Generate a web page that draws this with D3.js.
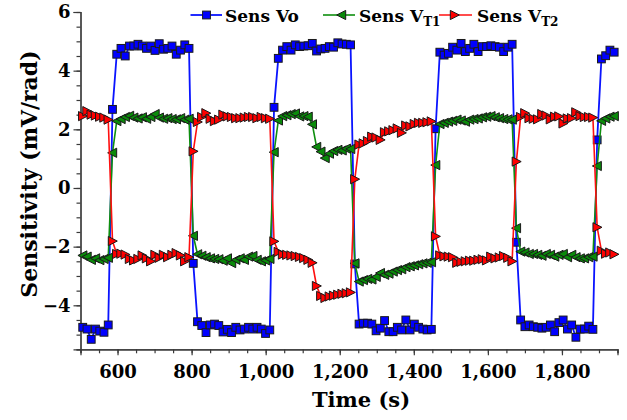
<!DOCTYPE html>
<html>
<head>
<meta charset="utf-8">
<script src="https://cdn.jsdelivr.net/npm/d3@7/dist/d3.min.js"></script>
<style>
  html, body { margin: 0; padding: 0; background: #fff; }
  svg { display: block; }
  text { font-family: "DejaVu Serif", serif; font-weight: bold; fill: #000; }
</style>
</head>
<body>
<svg id="chart" width="627" height="420"></svg>
<script>
// Sampling: one reading every ~11.5 s starting at t = 506 s
const startTime = 506;
const samplePeriod = 11.48;

// Sens Vo (mV/rad)
const sensVo = [
  -4.75, -4.81, -5.16, -4.81, -4.88, -4.92, -4.67,
  2.68,
  4.56, 4.76, 4.50, 4.84, 4.84, 4.90, 4.84, 4.76, 4.84, 4.69, 4.92, 4.73, 4.76, 4.84, 4.56, 4.70, 4.88, 4.76,
  -2.57,
  -4.56, -4.69, -4.93, -4.67, -4.64, -4.69, -4.91, -4.82, -4.93, -4.75, -4.84, -4.81, -4.75, -4.81, -4.75, -4.81, -4.96, -4.84,
  2.75,
  4.42, 4.70, 4.82, 4.70, 4.88, 4.82, 4.84, 4.85, 4.93, 4.67, 4.74, 4.76, 4.82, 4.80, 4.95, 4.91, 4.90, 4.88,
  -2.59,
  -4.64, -4.61, -4.61, -4.64, -4.87, -4.78, -4.52, -4.90, -4.90, -4.75, -4.84, -4.50, -4.84, -4.64, -4.75, -4.81, -4.84, -4.82,
  2.02,
  4.63, 4.53, 4.59, 4.80, 4.70, 4.93, 4.65, 4.76, 4.90, 4.65, 4.82, 4.82, 4.85, 4.82, 4.80, 4.65, 4.80, 4.90,
  -1.85,
  -4.50, -4.73, -4.67, -4.73, -4.75, -4.78, -4.75, -4.67, -4.90, -4.59, -4.50, -4.81, -4.67, -5.09, -4.81, -4.81, -4.71, -4.82,
  1.64,
  4.40, 4.51, 4.70, 4.63
];

// Sens VT1 (mV/rad)
const sensVT1 = [
  -2.30, -2.34, -2.45, -2.40, -2.46, -2.42, -2.38,
  1.20,
  2.28, 2.35, 2.42, 2.46, 2.40, 2.37, 2.41, 2.36, 2.42, 2.52, 2.40, 2.36, 2.38, 2.35, 2.34, 2.38, 2.33, 2.36,
  -1.63,
  -2.26, -2.31, -2.36, -2.40, -2.42, -2.43, -2.48, -2.40, -2.56, -2.45, -2.40, -2.45, -2.34, -2.32, -2.45, -2.50, -2.47, -2.42,
  1.22,
  2.30, 2.45, 2.48, 2.52, 2.54, 2.44, 2.45, 2.43, 2.17, 1.40, 1.24, 1.02, 1.17, 1.26, 1.30, 1.28, 1.34, 1.33,
  -2.57,
  -3.19, -3.14, -3.10, -3.12, -3.03, -2.90, -2.96, -2.92, -2.85, -2.80, -2.77, -2.70, -2.67, -2.64, -2.60, -2.57, -2.55, -2.53,
  0.78,
  2.18, 2.22, 2.26, 2.29, 2.33, 2.30, 2.26, 2.33, 2.35, 2.37, 2.41, 2.43, 2.45, 2.41, 2.38, 2.35, 2.34, 2.33,
  -1.37,
  -2.17, -2.20, -2.25, -2.25, -2.28, -2.31, -2.25, -2.28, -2.34, -2.28, -2.25, -2.36, -2.28, -2.36, -2.40, -2.40, -2.36, -2.34,
  0.75,
  2.29, 2.37, 2.43, 2.45
];

// Sens VT2 (mV/rad)
const sensVT2 = [
  2.45, 2.62, 2.50, 2.47, 2.43, 2.40, 2.33,
  -1.81,
  -2.25, -2.24, -2.27, -2.42, -2.47, -2.42, -2.30, -2.40, -2.50, -2.28, -2.38, -2.28, -2.36, -2.28, -2.22, -2.30, -2.50, -2.36,
  1.25,
  2.25, 2.42, 2.55, 2.36, 2.28, 2.33, 2.50, 2.44, 2.42, 2.38, 2.38, 2.40, 2.42, 2.42, 2.38, 2.42, 2.38, 2.36,
  -1.82,
  -2.18, -2.27, -2.28, -2.30, -2.32, -2.35, -2.39, -2.45, -2.55, -3.34, -3.68, -3.75, -3.70, -3.67, -3.64, -3.61, -3.59, -3.56,
  0.30,
  1.48, 1.52, 1.60, 1.75, 1.72, 1.64, 1.90, 1.93, 1.97, 2.03, 1.88, 2.13, 2.10, 2.18, 2.22, 2.22, 2.24, 2.27,
  -1.65,
  -2.30, -2.33, -2.34, -2.36, -2.55, -2.52, -2.50, -2.48, -2.48, -2.45, -2.43, -2.47, -2.34, -2.40, -2.37, -2.32, -2.38, -2.50,
  0.90,
  2.42, 2.55, 2.38, 2.36, 2.34, 2.52, 2.47, 2.34, 2.43, 2.44, 2.20, 2.37, 2.38, 2.58, 2.45, 2.42, 2.42, 2.40,
  -1.34,
  -2.14, -2.24, -2.20, -2.26
];

const xTickValues = [600, 800, 1000, 1200, 1400, 1600, 1800];
const yTickValues = [-4, -2, 0, 2, 4, 6];

const times = sensVo.map((_, i) => startTime + i * samplePeriod);

const svg = d3.select("#chart");
const plot = { left: 80.5, right: 617.5, top: 12, bottom: 349.3 };

const x = d3.scaleLinear().domain([500, 1950]).range([plot.left, plot.right]);
const y = d3.scaleLinear().domain([-5.5, 6]).range([plot.bottom, plot.top]);

const axisColor = "#3a3a3a";

// ---- axes ----
const xAxis = d3.axisBottom(x)
  .tickValues(xTickValues)
  .tickFormat(d3.format(","))
  .tickSize(6)
  .tickPadding(10);
const xMinor = d3.axisBottom(x)
  .tickValues(d3.range(500, 1951, 50))
  .tickFormat("")
  .tickSize(4);

const gx = svg.append("g").attr("transform", `translate(0,${plot.bottom})`);
gx.append("g").call(xMinor);
gx.append("g").call(xAxis);

const yAxis = d3.axisLeft(y)
  .tickValues(yTickValues)
  .tickSize(7)
  .tickPadding(3);
const yMinor = d3.axisLeft(y)
  .tickValues(d3.range(-5.5, 6.01, 0.5))
  .tickFormat("")
  .tickSize(4);

const gy = svg.append("g").attr("transform", `translate(${plot.left},0)`);
gy.append("g").call(yMinor);
gy.append("g").call(yAxis);

svg.selectAll(".domain").attr("stroke", axisColor).attr("stroke-width", 1.2);
svg.selectAll(".tick line").attr("stroke", axisColor).attr("stroke-width", 1.2);
svg.selectAll(".tick text")
  .attr("font-family", "DejaVu Serif, serif")
  .attr("font-weight", "bold")
  .attr("font-size", 18)
  .attr("fill", "#000");

// axis titles
svg.append("text")
  .attr("x", 361).attr("y", 407)
  .attr("text-anchor", "middle")
  .attr("font-size", 21)
  .text("Time (s)");

svg.append("text")
  .attr("transform", "translate(37,174) rotate(-90)")
  .attr("text-anchor", "middle")
  .attr("font-size", 22)
  .text("Sensitivity (mV/rad)");

// ---- markers ----
const markerStroke = "#1a1a1a";
const shapes = {
  square: (g) => g.append("rect").attr("x", -3.9).attr("y", -3.9).attr("width", 7.8).attr("height", 7.8),
  left: (g) => g.append("path").attr("d", "M-4.8,0L4.2,-4.6L4.2,4.6Z"),
  right: (g) => g.append("path").attr("d", "M4.8,0L-4.2,-4.6L-4.2,4.6Z")
};

const series = [
  { name: "Vo", values: sensVo, color: "#0000ff", line: "#0a14ff", shape: "square", width: 1.8 },
  { name: "VT1", values: sensVT1, color: "#0a8a0a", line: "#0f8f0f", shape: "left", width: 1.6 },
  { name: "VT2", values: sensVT2, color: "#ff0000", line: "#ff1010", shape: "right", width: 1.6 }
];

const line = d3.line().x(d => x(d[0])).y(d => y(d[1]));

series.forEach(s => {
  const pts = s.values.map((v, i) => [times[i], v]);
  const g = svg.append("g");
  g.append("path")
    .datum(pts)
    .attr("fill", "none")
    .attr("stroke", s.line)
    .attr("stroke-width", s.width)
    .attr("d", line);
  g.selectAll("g.m")
    .data(pts)
    .join("g")
    .attr("class", "m")
    .attr("transform", d => `translate(${x(d[0])},${y(d[1])})`)
    .each(function () {
      shapes[s.shape](d3.select(this))
        .attr("fill", s.color)
        .attr("stroke", markerStroke)
        .attr("stroke-width", 1);
    });
});

// ---- legend ----
const legendY = 15;
const legendItems = [
  { x0: 190.5, x1: 222, mx: 206.5, tx: 225, main: "Sens Vo", sub: null, s: series[0] },
  { x0: 323, x1: 355, mx: 341.5, tx: 359, main: "Sens V", sub: "T1", s: series[1] },
  { x0: 439, x1: 472, mx: 454.5, tx: 477, main: "Sens V", sub: "T2", s: series[2] }
];
legendItems.forEach(item => {
  const g = svg.append("g");
  g.append("line")
    .attr("x1", item.x0).attr("x2", item.x1)
    .attr("y1", legendY).attr("y2", legendY)
    .attr("stroke", item.s.line).attr("stroke-width", item.s.width);
  const m = g.append("g").attr("transform", `translate(${item.mx},${legendY})`);
  shapes[item.s.shape](m).attr("fill", item.s.color).attr("stroke", markerStroke).attr("stroke-width", 1);
  const t = g.append("text")
    .attr("x", item.tx).attr("y", legendY + 6.5)
    .attr("font-size", 17);
  t.append("tspan").text(item.main);
  if (item.sub) {
    t.append("tspan").attr("font-size", 12).attr("dy", 4).text(item.sub);
  }
});
</script>
</body>
</html>
